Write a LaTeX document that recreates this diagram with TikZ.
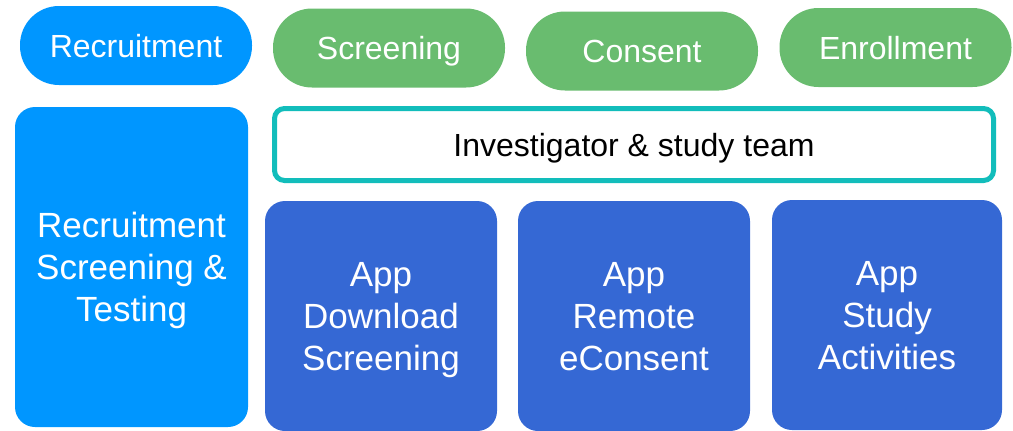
\documentclass[tikz,border=0pt]{standalone}
\usepackage{fontspec}
\setmainfont{Liberation Sans}
\definecolor{recblue}{RGB}{0,150,255}
\definecolor{stepgreen}{RGB}{105,188,111}
\definecolor{appblue}{RGB}{53,104,212}
\definecolor{teamteal}{RGB}{18,189,187}
\begin{document}
\begin{tikzpicture}[x=1pt, y=-1pt]
				\tikzstyle{pill}=[rounded corners=39pt, minimum width=232pt, minimum height=79pt, text=white, inner sep=0pt, text height=23pt, text depth=0pt, font=\fontsize{32pt}{38pt}\selectfont]
				\tikzstyle{bigbox}=[rounded corners=20pt, text=white, inner sep=0pt, text depth=0pt, align=center, font=\fontsize{35pt}{42pt}\selectfont]
				\useasboundingbox (0,0) rectangle (1013,431);
				% top row: phases
				\draw 
				node[pill, fill=recblue](recruit)at(136,45.5){Recruitment}
				node[pill, fill=stepgreen](screen)at(389,48){Screening}              
				node[pill, fill=stepgreen](consent)at(642,51){Consent} 
				node[pill, fill=stepgreen](enroll)at(895.5,47.5){Enrollment};
				
				% team bar
				\node[draw=teamteal, line width=5pt, rounded corners=10pt, minimum width=719pt, minimum height=72pt, inner sep=0pt, text height=23pt, text depth=0pt, font=\fontsize{32pt}{38pt}\selectfont](team)at(634,144.5){Investigator \& study team};
				
				% lower boxes
				\draw 
				node[bigbox, fill=recblue, minimum width=233pt, minimum height=320pt](rst)at(131.5,267){Recruitment\\Screening \&\\Testing}
				node[bigbox, fill=appblue, minimum width=232pt, minimum height=230pt](appdl)at(381,316){App\\Download\\Screening}
				node[bigbox, fill=appblue, minimum width=232pt, minimum height=230pt](appec)at(634,316){App\\Remote\\eConsent}
				node[bigbox, fill=appblue, minimum width=230pt, minimum height=230pt](appsa)at(887,315){App\\Study\\Activities};
				\end{tikzpicture}
\end{document}
